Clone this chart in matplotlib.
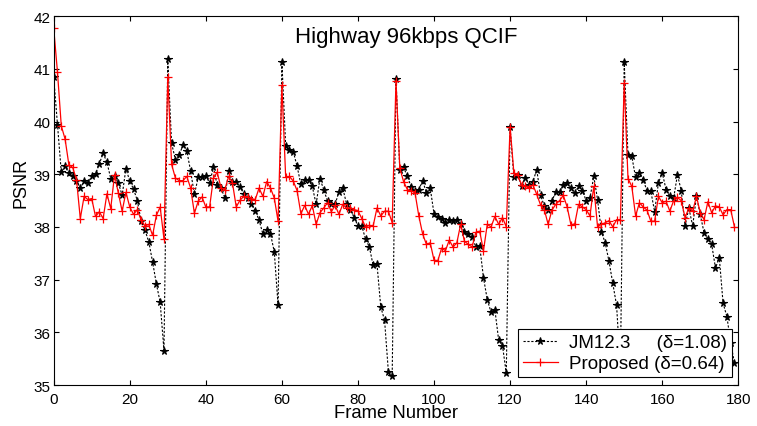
import matplotlib
matplotlib.use("Agg")
import matplotlib.pyplot as plt
import numpy as np

plt.rcParams['font.family'] = ['Liberation Sans', 'DejaVu Sans']

frames = list(range(180))

jm_psnr = [
    40.85, 39.94, 39.04, 39.15, 39.02, 38.96, 38.88, 38.74, 38.87, 38.84,
    38.96, 39.00, 39.20, 39.40, 39.23, 38.92, 38.96, 38.84, 38.60, 39.11,
    38.87, 38.72, 38.50, 38.11, 37.94, 37.72, 37.34, 36.92, 36.57, 35.65,
    41.18, 39.59, 39.28, 39.36, 39.56, 39.45, 39.06, 38.62, 38.94, 38.94,
    38.96, 38.84, 39.13, 38.79, 38.74, 38.55, 39.06, 38.86, 38.86, 38.76,
    38.63, 38.55, 38.43, 38.31, 38.13, 37.87, 37.94, 37.87, 37.53, 36.51,
    41.14, 39.54, 39.47, 39.43, 39.15, 38.81, 38.90, 38.90, 38.77, 38.43,
    38.92, 38.71, 38.49, 38.44, 38.43, 38.67, 38.74, 38.44, 38.33, 38.18,
    38.02, 38.02, 37.77, 37.62, 37.27, 37.30, 36.48, 36.23, 35.25, 35.17,
    40.81, 39.09, 39.13, 38.96, 38.76, 38.68, 38.71, 38.88, 38.65, 38.74,
    38.25, 38.19, 38.16, 38.08, 38.14, 38.12, 38.13, 38.05, 37.90, 37.86,
    37.81, 37.62, 37.64, 37.04, 36.62, 36.38, 36.43, 35.85, 35.75, 35.22,
    39.89, 38.94, 38.99, 38.77, 38.93, 38.80, 38.86, 39.09, 38.60, 38.40,
    38.33, 38.49, 38.67, 38.67, 38.79, 38.84, 38.74, 38.65, 38.77, 38.69,
    38.50, 38.55, 38.96, 38.52, 37.91, 37.70, 37.35, 36.93, 36.51, 35.30,
    41.14, 39.36, 39.34, 38.94, 39.03, 38.90, 38.68, 38.68, 38.29, 38.84,
    39.03, 38.71, 38.58, 38.55, 38.99, 38.69, 38.02, 38.36, 38.02, 38.58,
    38.24, 37.89, 37.77, 37.67, 37.22, 37.42, 36.55, 36.30, 35.80, 35.41,
]

proposed_psnr = [
    41.78, 40.94, 39.92, 39.67, 39.18, 39.13, 38.90, 38.16, 38.58, 38.52,
    38.54, 38.20, 38.29, 38.16, 38.63, 38.35, 38.99, 38.65, 38.30, 38.66,
    38.38, 38.24, 38.33, 38.13, 38.02, 38.05, 37.84, 38.22, 38.38, 37.77,
    40.85, 39.19, 38.93, 38.88, 38.88, 38.96, 38.74, 38.26, 38.49, 38.57,
    38.38, 38.38, 38.93, 39.04, 38.74, 38.71, 38.96, 38.84, 38.38, 38.51,
    38.58, 38.57, 38.54, 38.52, 38.74, 38.58, 38.86, 38.74, 38.55, 38.11,
    40.69, 38.94, 38.96, 38.87, 38.69, 38.25, 38.41, 38.24, 38.41, 38.05,
    38.27, 38.36, 38.46, 38.29, 38.41, 38.24, 38.43, 38.36, 38.36, 38.33,
    38.31, 38.16, 38.00, 38.03, 38.02, 38.36, 38.21, 38.30, 38.30, 38.08,
    40.78, 39.12, 38.86, 38.71, 38.69, 38.65, 38.21, 37.87, 37.67, 37.70,
    37.37, 37.36, 37.60, 37.55, 37.75, 37.62, 37.70, 38.05, 37.73, 37.67,
    37.62, 37.90, 37.92, 37.55, 38.05, 38.00, 38.20, 38.05, 38.18, 38.00,
    39.90, 39.02, 38.99, 38.80, 38.77, 38.74, 38.80, 38.62, 38.42, 38.33,
    38.05, 38.32, 38.43, 38.50, 38.60, 38.38, 38.04, 38.06, 38.43, 38.38,
    38.33, 38.21, 38.77, 38.00, 38.05, 38.08, 38.12, 38.00, 38.14, 38.14,
    40.74, 38.92, 38.77, 38.21, 38.46, 38.38, 38.32, 38.11, 38.11, 38.58,
    38.46, 38.49, 38.30, 38.50, 38.56, 38.50, 38.18, 38.36, 38.30, 38.58,
    38.27, 38.14, 38.48, 38.27, 38.40, 38.38, 38.23, 38.33, 38.33, 38.00,
]

x_ticks = [0, 20, 40, 60, 80, 100, 120, 140, 160, 180]
y_ticks = [35, 36, 37, 38, 39, 40, 41, 42]
labels = ["JM12.3     (\u03b4=1.08)", "Proposed (\u03b4=0.64)"]
title = "Highway 96kbps QCIF"

fig = plt.figure(figsize=(7.57, 4.27), dpi=100)
ax = fig.add_axes([0.0709, 0.0960, 0.9044, 0.8635])

ax.plot(frames, jm_psnr, color='black', linestyle=(0, (2, 1.5)), linewidth=0.8,
        marker='*', markersize=5.5, markeredgewidth=0.8, label=labels[0])
ax.plot(frames, proposed_psnr, color='red', linestyle='-', linewidth=0.9,
        marker='+', markersize=6, markeredgewidth=0.9, label=labels[1])

ax.set_xlim(0, 180)
ax.set_ylim(35, 42)
ax.set_xticks(x_ticks)
ax.set_yticks(y_ticks)
ax.tick_params(direction='in', length=3.6, width=0.8, top=True, right=True,
               labelsize=11)
ax.tick_params(axis='x', pad=5.0)
ax.tick_params(axis='y', pad=2.5)
for s in ax.spines.values():
    s.set_linewidth(0.8)

ax.text(0.5157, 0.93, title, transform=ax.transAxes, ha='center', va='baseline',
        fontsize=16)

ax.set_xlabel("Frame Number", fontsize=13.3)
ax.xaxis.set_label_coords(0.5, -0.088)
ax.xaxis.label.set_va('baseline')
ax.set_ylabel("PSNR", fontsize=13)
ax.yaxis.set_label_coords(-0.047, 0.552)
ax.yaxis.label.set_va('center')

leg = ax.legend(loc='lower right', bbox_to_anchor=(0.9908, 0.0221), fontsize=13.5,
                frameon=True, fancybox=False, framealpha=1, edgecolor='black',
                handlelength=1.85, handletextpad=0.62, labelspacing=0.2,
                borderpad=0.25, borderaxespad=0)
leg.get_frame().set_linewidth(0.8)

fig.savefig("out.png", dpi=100)
